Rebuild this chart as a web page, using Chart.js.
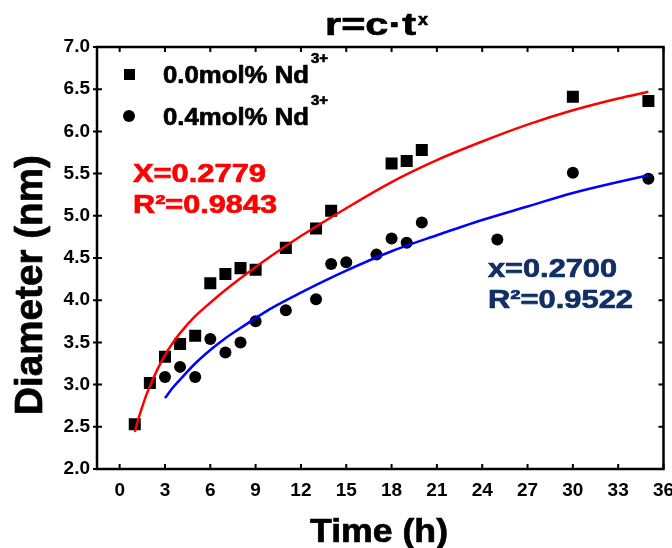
<!DOCTYPE html>
<html>
<head>
<meta charset="utf-8">
<script src="https://cdn.jsdelivr.net/npm/chart.js@4.4.0/dist/chart.umd.min.js"></script>
<style>
  html, body { margin: 0; padding: 0; background: #fff; }
</style>
</head>
<body>
<canvas id="chart" width="672" height="548"></canvas>
<script>
// --- measured diameters ---
const undopedTime = [1, 2, 3, 4, 5, 6, 7, 8, 9, 11, 13, 14, 18, 19, 20, 30, 35];
const undopedSize = [2.53, 3.02, 3.33, 3.48, 3.58, 4.20, 4.31, 4.38, 4.36, 4.62, 4.85, 5.06, 5.62, 5.65, 5.78, 6.41, 6.36];
const dopedTime = [3, 4, 5, 6, 7, 8, 9, 11, 13, 14, 15, 17, 18, 19, 20, 25, 30, 35];
const dopedSize = [3.09, 3.21, 3.09, 3.54, 3.38, 3.50, 3.75, 3.88, 4.01, 4.43, 4.45, 4.54, 4.73, 4.68, 4.92, 4.72, 5.51, 5.44];

// --- fitted r = c*t^x curves ---
const undopedFitTime = [1, 1.25, 1.5, 1.75, 2, 2.5, 3, 3.5, 4, 5, 6, 7, 8, 10, 12, 15, 18, 21, 24, 27, 30, 33, 35];
const undopedFitSize = [2.44, 2.60, 2.74, 2.87, 2.98, 3.18, 3.35, 3.49, 3.61, 3.81, 3.97, 4.12, 4.26, 4.52, 4.76, 5.09, 5.40, 5.66, 5.88, 6.08, 6.25, 6.39, 6.47];
const dopedFitTime = [3, 3.5, 4, 5, 6, 7, 8, 10, 12, 15, 18, 21, 24, 27, 30, 33, 35];
const dopedFitSize = [2.84, 2.96, 3.06, 3.25, 3.41, 3.55, 3.67, 3.90, 4.09, 4.35, 4.58, 4.77, 4.95, 5.11, 5.27, 5.40, 5.48];

// --- axes ---
const xTicks = [0, 3, 6, 9, 12, 15, 18, 21, 24, 27, 30, 33, 36];
const yTicks = [2.0, 2.5, 3.0, 3.5, 4.0, 4.5, 5.0, 5.5, 6.0, 6.5, 7.0];

const FONT = '"Liberation Sans", Arial, sans-serif';
const RED = '#ff0000';
const NAVY = '#112f66';

function pts(xs, ys) {
  return xs.map((x, i) => ({ x: x, y: ys[i] }));
}

// heavy text, stretched horizontally to a given width
function label(ctx, text, x, y, size, width, color, align) {
  ctx.save();
  ctx.font = 'bold ' + size + 'px ' + FONT;
  const w = ctx.measureText(text).width;
  const sx = width ? width / w : 1;
  ctx.translate(x, y);
  ctx.scale(sx, 1);
  ctx.textBaseline = 'alphabetic';
  ctx.textAlign = 'left';
  const x0 = align === 'center' ? -w / 2 : 0;
  ctx.fillStyle = color;
  ctx.strokeStyle = color;
  ctx.lineWidth = 0.7;
  ctx.lineJoin = 'round';
  ctx.fillText(text, x0, 0);
  ctx.strokeText(text, x0, 0);
  ctx.restore();
}

const decorations = {
  id: 'decorations',
  afterDraw(chart) {
    const ctx = chart.ctx;
    const a = chart.chartArea;
    const xs = chart.scales.x, ys = chart.scales.y;

    // frame
    ctx.save();
    ctx.strokeStyle = '#000';
    ctx.lineWidth = 2.5;
    ctx.strokeRect(a.left, a.top, a.right - a.left, a.bottom - a.top);
    ctx.lineWidth = 2;
    ctx.beginPath();
    xTicks.forEach(v => {
      const px = xs.getPixelForValue(v);
      ctx.moveTo(px, a.bottom); ctx.lineTo(px, a.bottom - 5);
      ctx.moveTo(px, a.top); ctx.lineTo(px, a.top + 5);
    });
    yTicks.forEach(v => {
      const py = ys.getPixelForValue(v);
      ctx.moveTo(a.left - 4, py); ctx.lineTo(a.left + 5, py);
      ctx.moveTo(a.right, py); ctx.lineTo(a.right - 5, py);
    });
    ctx.stroke();
    ctx.restore();

    // title
    label(ctx, 'r=c\u00b7t', 325, 35, 32, 91, '#000');
    label(ctx, 'x', 418, 25, 17, 10, '#000');

    // legend
    ctx.save();
    ctx.fillStyle = '#000';
    ctx.fillRect(124, 69, 11, 11);
    ctx.beginPath();
    ctx.arc(129, 116, 6, 0, Math.PI * 2);
    ctx.fill();
    ctx.restore();
    label(ctx, '0.0mol% Nd', 163, 83, 24, 146, '#000');
    label(ctx, '3+', 311, 63, 15, 17, '#000');
    label(ctx, '0.4mol% Nd', 163, 125, 24, 146, '#000');
    label(ctx, '3+', 311, 105, 15, 17, '#000');

    // fit results
    label(ctx, 'X=0.2779', 133, 182, 25, 133, RED);
    label(ctx, 'R\u00b2=0.9843', 133, 213, 25, 144, RED);
    label(ctx, 'x=0.2700', 488, 277, 25, 129, NAVY);
    label(ctx, 'R\u00b2=0.9522', 488, 308, 25, 145, NAVY);

    // axis titles
    label(ctx, 'Time (h)', 379, 542, 33, 138, '#000', 'center');
    ctx.save();
    ctx.translate(42, 285);
    ctx.rotate(-Math.PI / 2);
    label(ctx, 'Diameter (nm)', 0, 0, 39, 260, '#000', 'center');
    ctx.restore();
  }
};

new Chart(document.getElementById('chart'), {
  type: 'scatter',
  data: {
    datasets: [
      {
        label: 'fit 0.0mol%',
        data: pts(undopedFitTime, undopedFitSize),
        showLine: true,
        borderColor: RED,
        borderWidth: 2.5,
        pointRadius: 0,
        cubicInterpolationMode: 'monotone',
      },
      {
        label: 'fit 0.4mol%',
        data: pts(dopedFitTime, dopedFitSize),
        showLine: true,
        borderColor: '#0000ff',
        borderWidth: 2.5,
        pointRadius: 0,
        cubicInterpolationMode: 'monotone',
      },
      {
        label: '0.0mol% Nd3+',
        data: pts(undopedTime, undopedSize),
        pointStyle: 'rect',
        pointRadius: 8.5,
        backgroundColor: '#000',
        borderWidth: 0,
      },
      {
        label: '0.4mol% Nd3+',
        data: pts(dopedTime, dopedSize),
        pointStyle: 'circle',
        pointRadius: 6,
        backgroundColor: '#000',
        borderWidth: 0,
      },
    ]
  },
  options: {
    responsive: false,
    animation: false,
    events: [],
    layout: { padding: { left: 0, right: 4, top: 47, bottom: 0 } },
    plugins: {
      legend: { display: false },
      title: { display: false },
      tooltip: { enabled: false },
    },
    scales: {
      x: {
        type: 'linear',
        min: -1.5,
        max: 36,
        grid: { display: false, drawTicks: false },
        border: { display: false },
        ticks: {
          color: '#000',
          font: { family: FONT, size: 19, weight: 'bold' },
          padding: 10,
          maxRotation: 0,
        },
        afterBuildTicks(scale) { scale.ticks = xTicks.map(v => ({ value: v })); },
        afterFit(scale) { scale.height = 79; scale.paddingLeft = 0; scale.paddingRight = 0; },
      },
      y: {
        min: 2,
        max: 7,
        grid: { display: false, drawTicks: false },
        border: { display: false },
        ticks: {
          color: '#000',
          font: { family: FONT, size: 19, weight: 'bold' },
          padding: 7,
          callback: v => v.toFixed(1),
        },
        afterBuildTicks(scale) { scale.ticks = yTicks.map(v => ({ value: v })); },
        afterFit(scale) { scale.width = 97; scale.paddingTop = 0; scale.paddingBottom = 0; },
      },
    }
  },
  plugins: [decorations]
});
</script>
</body>
</html>
